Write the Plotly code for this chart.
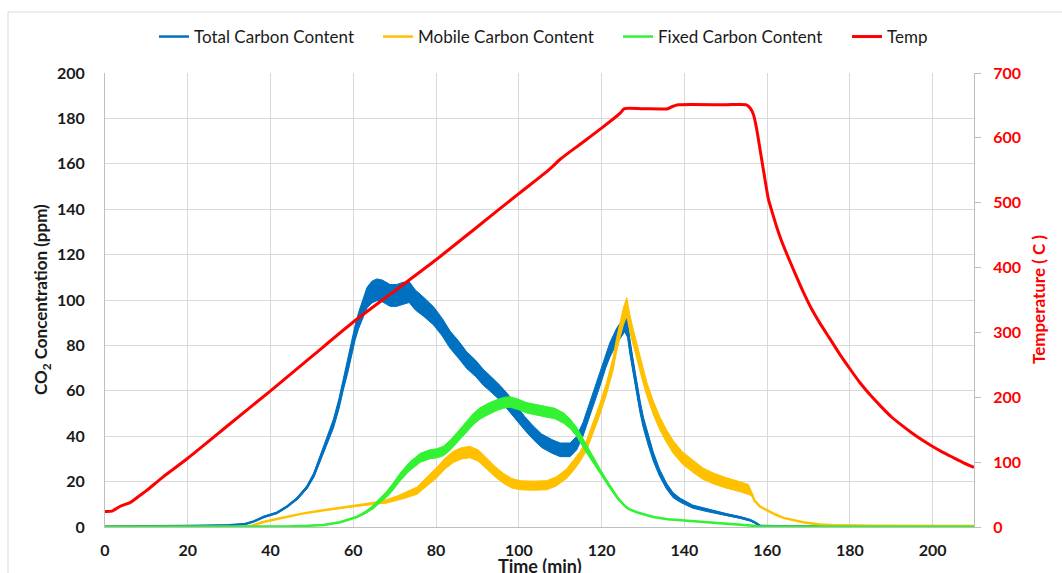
import plotly.graph_objects as go

# ---------------- data ----------------
total_x = [0, 10, 20, 30, 33.9, 36, 38.3, 41.5, 44, 46.4, 48.8, 50.5, 52, 53.5, 55.2, 56.5, 57.6, 58.7,
           59.7, 60.5, 61.3, 62.3, 63.3, 64.5, 65.7, 67, 68.9, 70.5, 72, 73.5, 75, 77, 79.4, 81.5, 83.4,
           85.5, 87.4, 89.5, 91.4, 93.5, 95.5, 97.5, 99.5, 101.5, 103.5, 105.5, 108, 110, 112.4, 114,
           115.5, 117.2, 118.5, 119.6, 121, 122, 123.6, 125.6, 126.3, 126.8, 127.7, 128.5, 129.3, 130.1,
           131.3, 132.5, 134, 135.7, 137.3, 139, 142, 145.4, 150, 153.5, 155.9, 157, 158.3, 162, 210]
total_y = [0.2, 0.2, 0.4, 0.8, 1.3, 2.5, 4.4, 6.2, 9, 12.5, 17.5, 23, 30, 37, 45.5, 54, 63, 71,
           79, 86, 91, 96, 101, 103.5, 104.5, 104, 102, 102, 103, 103.5, 100, 97, 93, 88, 82.5,
           78, 73.5, 70, 66, 62.5, 59, 55, 50, 45.5, 41.5, 38, 35.5, 34, 34, 37,
           43, 52, 59, 65, 73, 78, 84, 89.5, 87, 80, 70, 61, 53, 46,
           38, 31, 24, 18, 14, 11.8, 9, 7.4, 5.5, 4.2, 3, 2, 0.5, 0.3, 0.3]
total_noise = [0, 0, 0, 0, 0, 0, 0.2, 0.3, 0.3, 0.5, 0.7, 1, 1.3, 1.6, 2, 2.3, 2.6, 2.8,
               3, 3.3, 3.6, 4, 4.5, 4.8, 4.8, 4.8, 4.8, 4.8, 4.8, 4.6, 4.4, 4.2, 4, 3.9, 3.8,
               3.8, 3.7, 3.6, 3.5, 3.4, 3.3, 3.2, 3.1, 3, 3, 3, 3, 3, 3, 3,
               3, 3, 3, 3, 3, 3.2, 3.4, 3.5, 3.5, 3.3, 3, 3, 2.8, 2.5,
               2.2, 2, 1.6, 1.3, 1.1, 0.9, 0.7, 0.6, 0.5, 0.4, 0.3, 0.2, 0, 0, 0]

mobile_x = [0, 34, 35.5, 38.3, 41.5, 44.8, 48, 52.8, 56, 60.8, 63, 65.7, 68, 70.5, 72.5, 75.4, 77.5,
            80.2, 82.2, 84.2, 86.2, 88.2, 90.2, 92.2, 94.2, 96.3, 98.3, 100.3, 103.5, 106.7, 109,
            111.6, 113.2, 114.8, 116.4, 118, 119.6, 121.2, 122.8, 123.6, 124.5, 125.3, 126.1, 126.8,
            127.6, 128.5, 129.7, 130.9, 132.5, 134.1, 135.7, 137.3, 139.5, 142.2, 144.5, 147, 150,
            153.5, 155.5, 156.3, 157, 158.3, 159.9, 162, 164, 166.3, 169, 172.8, 176, 185, 195, 210]
mobile_y = [0, 0.1, 0.6, 2.2, 3.5, 4.8, 6, 7.4, 8.2, 9.2, 9.8, 10.6, 11.3, 12.6, 14, 16, 19.5,
            24, 28, 30.9, 32.5, 33, 31.5, 28, 24.5, 21.4, 19.3, 18.4, 18.2, 18.4, 20,
            23.6, 27, 31, 36, 44, 52, 61, 72, 80, 87, 93, 97, 90,
            84, 78, 69, 61, 52.5, 45.6, 40, 35.3, 30.5, 26.5, 23.5, 21.4, 19.5,
            17.7, 16.5, 14.5, 11.5, 9, 7.4, 5.5, 4, 3, 2, 1.1, 0.8, 0.6, 0.5, 0.4]
mobile_noise = [0, 0, 0, 0, 0, 0, 0, 0, 0, 0, 0.3, 0.5, 0.8, 1, 1.3, 1.6, 2,
                2.3, 2.4, 2.5, 2.5, 2.5, 2.5, 2.4, 2.3, 2.2, 2.1, 2, 2, 2, 2,
                2.1, 2.2, 2.2, 2.3, 2.4, 2.5, 2.6, 2.8, 3, 3.3, 3.8, 4, 3.8,
                3.5, 3.3, 3.2, 3, 3, 2.9, 2.8, 2.8, 2.7, 2.6, 2.5, 2.4, 2.3,
                2.2, 2.2, 0.8, 0.3, 0, 0, 0, 0, 0, 0, 0, 0, 0, 0, 0]

fixed_x = [0, 40, 45, 48.8, 52.8, 56.8, 60.8, 63, 64.9, 66.5, 68.1, 69.5, 71.3, 73.5, 76.2, 78.5,
           80.2, 81.8, 83.4, 85.4, 87.4, 89, 90.6, 92.6, 94.7, 96.3, 97.9, 99.9, 101.9, 104.3, 106.7,
           108.7, 110.8, 112.4, 114, 116, 118, 120, 122, 124, 125.5, 126.5, 128.5, 130.5, 132.5,
           136, 141.4, 148, 153.5, 156.6, 158, 210]
fixed_y = [0, 0.1, 0.3, 0.5, 0.9, 2.1, 4.4, 6.5, 8.9, 11.8, 14.5, 17.5, 22, 26.5, 30.5, 32,
           32.5, 33.5, 36, 40, 44.1, 47.5, 50, 52, 53.7, 54.7, 55.1, 54, 52.5, 51.5, 50.7,
           50, 48, 45.5, 41.9, 35.5, 29.4, 23.5, 17.7, 12.5, 9.5, 8, 6.5, 5.3, 4.4,
           3.4, 2.7, 1.9, 1.2, 0.6, 0.2, 0.1]
fixed_noise = [0, 0, 0, 0, 0, 0, 0.2, 0.5, 0.8, 1, 1.3, 1.5, 1.7, 1.9, 2, 2,
               2, 2.1, 2.2, 2.3, 2.4, 2.5, 2.5, 2.5, 2.4, 2.4, 2.3, 2.3, 2.3, 2.3, 2.3,
               2.3, 2.3, 2.1, 2, 1.8, 1.4, 1, 0.7, 0.4, 0, 0, 0, 0, 0,
               0, 0, 0, 0, 0, 0, 0]

temp_x = [0, 1.7, 3.7, 6.1, 8.5, 10, 14, 20, 30, 40, 50, 60, 70, 80, 90, 100, 106, 108, 110, 115,
          120, 124.5, 125.5, 130, 136, 137, 138.5, 150, 155, 155.9, 156.7, 157.5, 158.3, 159.1,
          160.3, 161.3, 162.3, 163.5, 164.7, 166.5, 168.7, 170.7, 172.8, 175, 177.5, 180, 182.5,
          185, 187.5, 190, 192.5, 195, 197.5, 200, 202.5, 205, 207.5, 210]
temp_y = [24, 24.5, 32, 37.7, 49, 56, 77, 106, 158, 210, 263, 316, 364, 412, 463, 514, 544, 555,
          567, 591, 615, 638, 645, 645, 645, 648, 651, 651, 651, 646, 636, 613, 582, 551,
          506, 484, 463, 441, 422, 395, 363, 337, 314, 292, 267, 244, 222,
          203, 186, 170, 157, 145, 134, 124, 115, 107, 99, 92]

x_ticks = [0, 20, 40, 60, 80, 100, 120, 140, 160, 180, 200]
y_ticks = [0, 20, 40, 60, 80, 100, 120, 140, 160, 180, 200]
t_ticks = [0, 100, 200, 300, 400, 500, 600, 700]

# ---------------- styling ----------------
BLUE, ORANGE, GREEN, RED = "#0070C0", "#FFC000", "#33F233", "#FF0000"
FONT = "Lato, 'Open Sans', sans-serif"

L, R, T, B = 105, 88, 73, 46
W, H = 1062, 573
pw, ph = W - L - R, H - T - B


def px_x(p):
    return (p - L) / pw


def px_y(p):
    return (H - B - p) / ph


fig = go.Figure()


def add_series(name, xs, ys, noise, color, legend):
    upper = [y + a for y, a in zip(ys, noise)]
    lower = [max(y - a, 0) for y, a in zip(ys, noise)]
    fig.add_trace(go.Scatter(
        x=list(xs) + list(xs)[::-1], y=upper + lower[::-1],
        fill="toself", fillcolor=color, mode="lines",
        line=dict(color=color, width=1), showlegend=False, hoverinfo="skip"))
    fig.add_trace(go.Scatter(x=xs, y=ys, mode="lines", name=name, legend=legend,
                             line=dict(color=color, width=2.5)))


add_series("Total Carbon Content", total_x, total_y, total_noise, BLUE, "legend")
add_series("Mobile Carbon Content", mobile_x, mobile_y, mobile_noise, ORANGE, "legend2")
add_series("Fixed Carbon Content", fixed_x, fixed_y, fixed_noise, GREEN, "legend3")
fig.add_trace(go.Scatter(x=temp_x, y=temp_y, mode="lines", name="Temp", yaxis="y2", legend="legend4",
                         line=dict(color=RED, width=3, shape="spline", smoothing=0.6)))


def legend_at(line_start_px):
    return dict(orientation="h", x=px_x(line_start_px - 6), xanchor="left", y=px_y(37),
                yanchor="middle", font=dict(family=FONT, size=17, color="#1a1a1a"),
                bgcolor="rgba(0,0,0,0)", itemwidth=30)


fig.update_layout(
    width=W, height=H,
    margin=dict(l=L, r=R, t=T, b=B, autoexpand=False),
    paper_bgcolor="white", plot_bgcolor="white",
    font=dict(family=FONT, color="#1a1a1a"),
    showlegend=True,
    legend=legend_at(160),
    legend2=legend_at(384),
    legend3=legend_at(624),
    legend4=legend_at(853),
    xaxis=dict(range=[0, 210], tickvals=x_ticks, showgrid=True, gridcolor="#d9d9d9", gridwidth=1,
               showline=True, linecolor="#bfbfbf", linewidth=1, zeroline=False, ticks="",
               tickfont=dict(family=FONT, size=16, weight="bold", color="#1a1a1a"),
               ticklabelstandoff=9),
    yaxis=dict(range=[0, 200], tickvals=y_ticks, showgrid=True, gridcolor="#d9d9d9", gridwidth=1,
               showline=True, linecolor="#bfbfbf", linewidth=1, zeroline=False, ticks="",
               tickfont=dict(family=FONT, size=16, weight="bold", color="#1a1a1a"),
               ticklabelstandoff=16),
    yaxis2=dict(range=[0, 700], tickvals=t_ticks, overlaying="y", side="right", showgrid=False,
                showline=True, linecolor="#bfbfbf", linewidth=1, zeroline=False,
                ticks="outside", ticklen=6, tickcolor="#bfbfbf",
                tickfont=dict(family=FONT, size=16, weight="bold", color=RED),
                ticklabelstandoff=9),
    shapes=[dict(type="rect", xref="paper", yref="paper",
                 x0=px_x(8), x1=px_x(1075), y0=px_y(590), y1=px_y(12),
                 line=dict(color="#d9d9d9", width=1), fillcolor="rgba(0,0,0,0)", layer="below")],
    annotations=[
        dict(text="CO<sub>2</sub> Concentration (ppm)", xref="paper", yref="paper",
             x=px_x(42), y=0.5, textangle=-90, showarrow=False, xanchor="center", yanchor="middle",
             font=dict(family=FONT, size=17, weight="bold", color="#1a1a1a")),
        dict(text="Temperature ( C )", xref="paper", yref="paper",
             x=px_x(1038), y=0.5, textangle=-90, showarrow=False, xanchor="center", yanchor="middle",
             font=dict(family=FONT, size=17, weight="bold", color=RED)),
        dict(text="Time (min)", xref="paper", yref="paper",
             x=px_x(540), y=px_y(566), showarrow=False, xanchor="center", yanchor="middle",
             font=dict(family=FONT, size=18, weight="bold", color="#1a1a1a")),
    ],
)

fig.write_html("out.html")
